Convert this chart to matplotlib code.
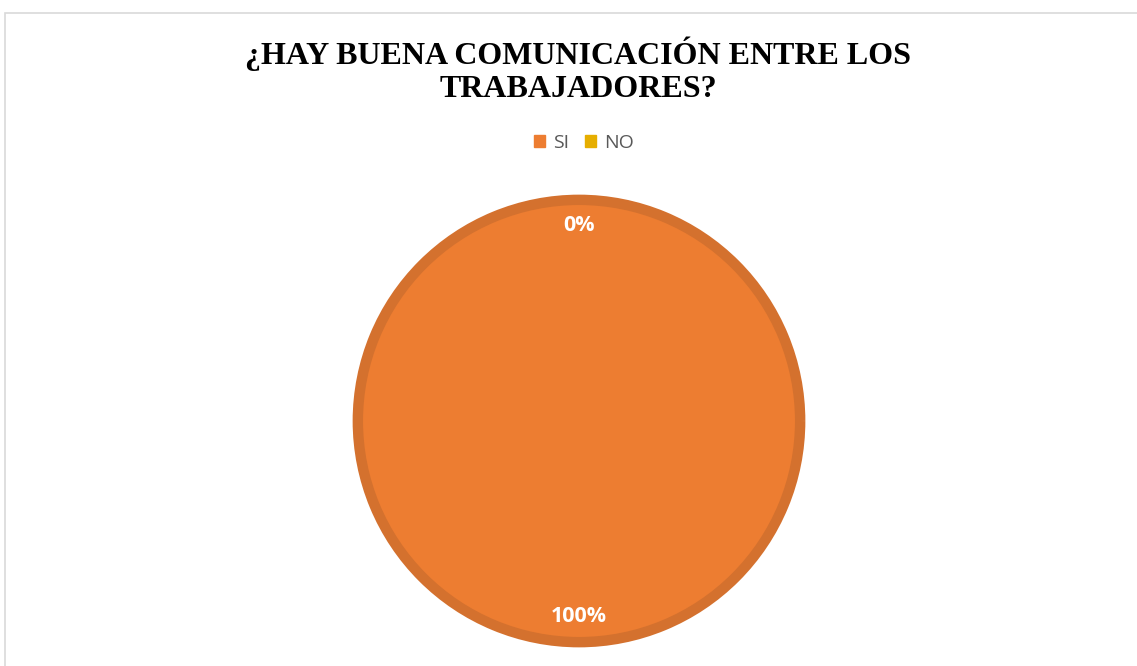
import numpy as np
import matplotlib.pyplot as plt
from matplotlib.patches import Rectangle

# Datos de la encuesta
categorias = ['SI', 'NO']
valores = [100, 0]
colores = ['#ED7D31', '#E6AE00']
borde = '#D4712E'
titulo = '¿HAY BUENA COMUNICACIÓN ENTRE LOS\nTRABAJADORES?'

W, H = 1137, 666
fig = plt.figure(figsize=(W / 100, H / 100), dpi=100)

# Marco gris claro del gráfico
fig.patches.append(Rectangle((5 / W, -10 / H), (W + 20) / W, (H - 13 + 10) / H,
                             transform=fig.transFigure, fill=False,
                             edgecolor='#D9D9D9', linewidth=1.2))

# Título
fig.text(578 / W, 1 - 70 / H, titulo, ha='center', va='center',
         family='Liberation Serif', weight='bold', fontsize=23,
         color='#000000', linespacing=1.2)

# Ejes del pastel
cx, cy, half = 579, 421, 230
ax = fig.add_axes([(cx - half) / W, (H - cy - half) / H, 2 * half / W, 2 * half / H])
wedges, _ = ax.pie(valores, colors=colores, startangle=90, counterclock=False,
                   radius=1.0, wedgeprops=dict(edgecolor=borde, linewidth=7.5))
for w, v in zip(wedges, valores):
    if v == 0:
        w.set_linewidth(0)
ax.set_xlim(-1.04, 1.04)
ax.set_ylim(-1.04, 1.04)
ax.set_aspect('equal')
ax.axis('off')

# Etiquetas de porcentaje
total = sum(valores)
inicio = 90.0
for v in valores:
    ang = inicio - 360.0 * v / total / 2
    inicio -= 360.0 * v / total
    r = 0.885
    ax.text(r * np.cos(np.radians(ang)), r * np.sin(np.radians(ang)),
            f'{v / total * 100:.0f}%', ha='center', va='center',
            color='white', weight='bold', fontsize=15.5, family='Open Sans')

# Leyenda
handles = [Rectangle((0, 0), 1, 1, color=c) for c in colores]
fig.legend(handles, categorias, loc='center', bbox_to_anchor=(584 / W, 1 - 143 / H),
           ncol=2, frameon=False, handlelength=0.55, handleheight=0.55,
           handletextpad=0.4, columnspacing=0.85,
           prop=dict(family='Open Sans', size=14), labelcolor='#595959')

fig.savefig('out.png', dpi=100)
